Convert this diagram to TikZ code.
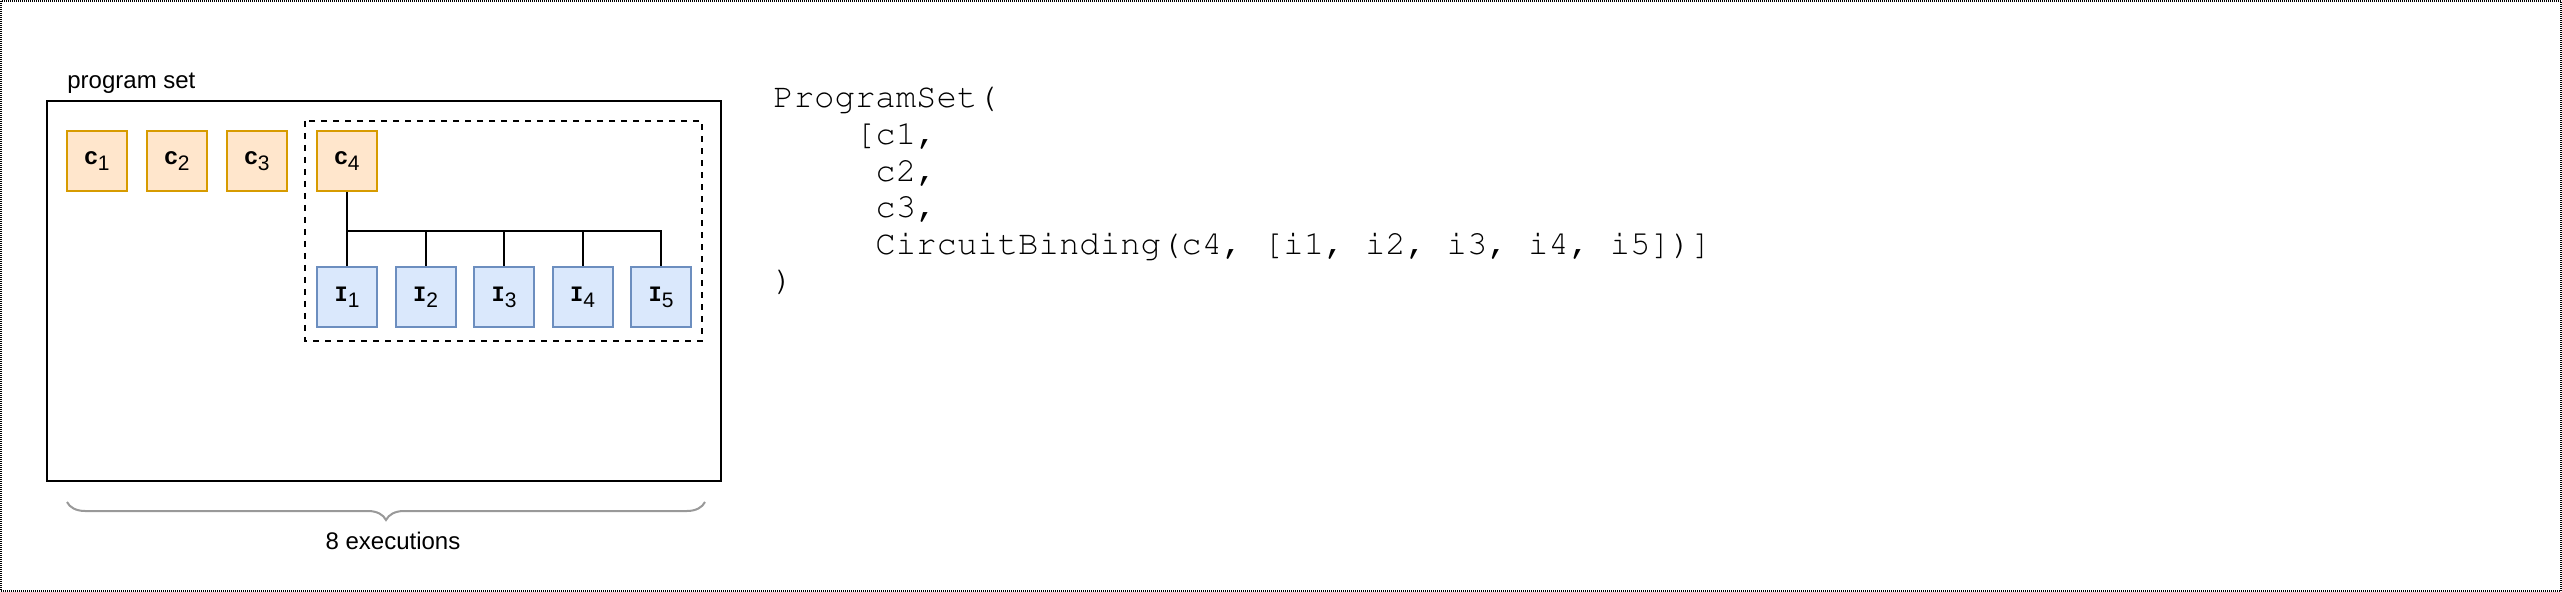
\documentclass[tikz,border=0pt]{standalone}
\usepackage[T1]{fontenc}
\usepackage{fontspec}
\setmainfont{Liberation Sans}
\newcommand{\codefont}{\fontencoding{T1}\fontfamily{pcr}\selectfont}
\newfontfamily\boldmono{Liberation Mono}
\usetikzlibrary{decorations.pathreplacing}

\definecolor{cfill}{HTML}{FFE6CC}
\definecolor{cdraw}{HTML}{D79B00}
\definecolor{ifill}{HTML}{DAE8FC}
\definecolor{idraw}{HTML}{6C8EBF}
\definecolor{bracegray}{HTML}{999999}

\newcommand{\lsub}[1]{\raisebox{-3pt}{\fontsize{10.5}{12}\selectfont\mdseries #1}}
\newcommand{\iletter}{{\boldmono\bfseries I}}

\tikzset{
    cbox/.style={draw=cdraw, fill=cfill, line width=1pt, minimum size=30pt, inner sep=0pt, font=\fontsize{12}{14}\selectfont\bfseries},
    ibox/.style={draw=idraw, fill=ifill, line width=1pt, minimum size=30pt, inner sep=0pt, font=\fontsize{11}{13}\selectfont},
    codeline/.style={anchor=base west, inner sep=0pt, font=\codefont\fontsize{17}{20}\selectfont},
    wire/.style={line width=1pt}
}

\begin{document}
\begin{tikzpicture}[x=0.5pt, y=-0.5pt]
        \fill[white] (0,0) rectangle (2562,592);
        \useasboundingbox (0,0) rectangle (2562,592);
        \draw[line width=1pt, dash pattern=on 0.5pt off 0.5pt] (1,1) rectangle (2561,591);

        \node [anchor=base west, inner sep=0pt, font=\fontsize{12}{14}\selectfont] (setlabel) at (67,89) {program set};
        \draw[line width=1.3pt] (47,101) rectangle (721,481);
        \draw[line width=1pt, dash pattern=on 3pt off 3pt] (305,121) rectangle (702,341);

        \node [cbox] (c1) at (97,161) {c\lsub{1}};
        \node [cbox] (c2) at (177,161) {c\lsub{2}};
        \node [cbox] (c3) at (257,161) {c\lsub{3}};
        \node [cbox] (c4) at (347,161) {c\lsub{4}};

        \node [ibox] (i1) at (347,297) {\iletter\lsub{1}};
        \node [ibox] (i2) at (425.5,297) {\iletter\lsub{2}};
        \node [ibox] (i3) at (504,297) {\iletter\lsub{3}};
        \node [ibox] (i4) at (582.5,297) {\iletter\lsub{4}};
        \node [ibox] (i5) at (661,297) {\iletter\lsub{5}};

        \coordinate (bus) at (347,231);
        \draw[wire] (c4) -- (i1);
        \draw[wire] (i2) |- (bus); \draw[wire] (i3) |- (bus); \draw[wire] (i4) |- (bus); \draw[wire] (i5) |- (bus);

        \coordinate (bl) at (67,502);
        \coordinate (br) at (705,502);
        \draw[bracegray, line width=1pt, decorate, decoration={brace, amplitude=9pt, mirror}] (bl) -- (br);
        \node [anchor=base, inner sep=0pt, font=\fontsize{12}{14}\selectfont] (exec) at (393,549) {8 executions};

        \node [codeline] (line1) at (773,108) {ProgramSet(};
        \node [codeline] (line2) at (773,145) {\phantom{xxxx}[c1,};
        \node [codeline] (line3) at (773,181.5) {\phantom{xxxxx}c2,};
        \node [codeline] (line4) at (773,218) {\phantom{xxxxx}c3,};
        \node [codeline] (line5) at (773,254.5) {\phantom{xxxxx}CircuitBinding(c4, [i1, i2, i3, i4, i5])]};
        \node [codeline] (line6) at (773,291) {)};
\end{tikzpicture}
\end{document}
